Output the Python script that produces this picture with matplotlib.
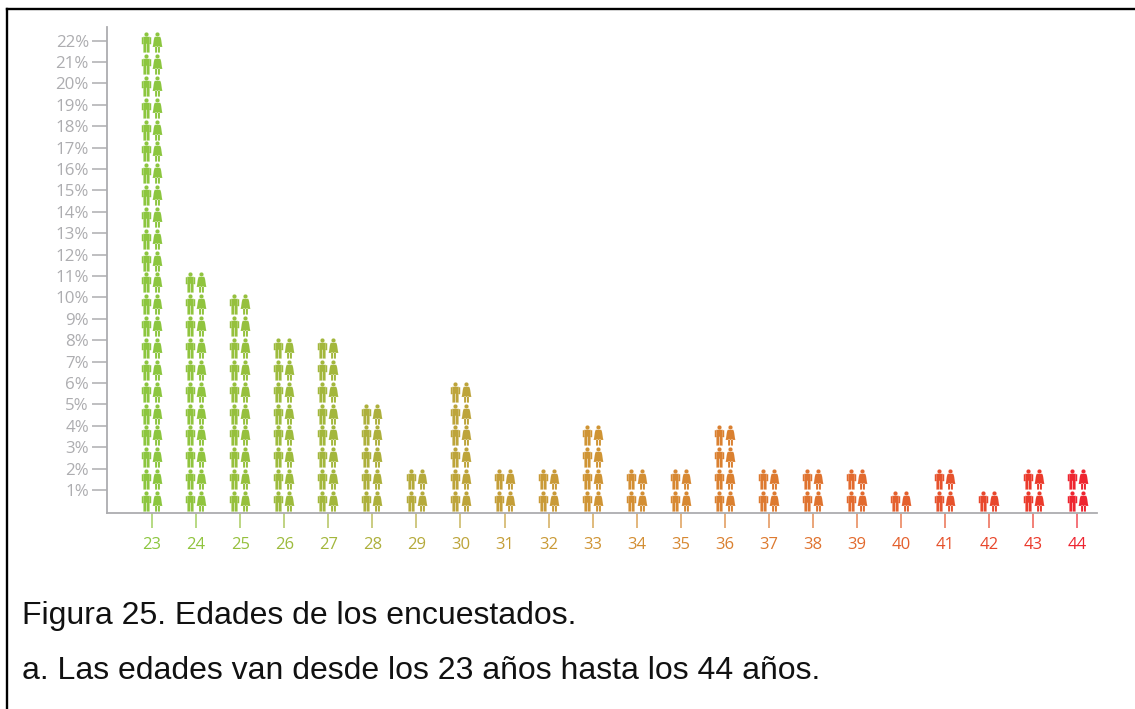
#!/usr/bin/env python
"""Figura 25: age distribution of respondents as a pictogram of paired figures."""
import matplotlib
matplotlib.use("Agg")
import matplotlib.pyplot as plt
from matplotlib.lines import Line2D
from matplotlib.path import Path

edades = list(range(23, 45))
porcentajes = [22, 11, 10, 8, 8, 5, 2, 6, 2, 2, 4, 2, 2, 4, 2, 2, 2, 1, 2, 1, 2, 2]
colores = ["#8cc63f", "#90c43e", "#96c03d", "#9dbb3d", "#a3b73c", "#adb03c",
           "#b5aa3b", "#bda43a", "#c49e38", "#c99a37", "#cf9434", "#d38e33",
           "#d78832", "#da8030", "#dd7a30", "#df732f", "#e26a2e", "#e4602d",
           "#e6522c", "#e8472c", "#eb3a2b", "#ee2530"]
etiquetas_y = [f"{i}%" for i in range(1, 23)]
titulo = "Figura 25. Edades de los encuestados."
nota = "a. Las edades van desde los 23 años hasta los 44 años."

W, H = 1135, 709
DPI = 100
GRIS = "#adadb0"


def rect(x0, y0, x1, y1):
    return [(x0, y0), (x1, y0), (x1, y1), (x0, y1), (x0, y0)], \
           [Path.MOVETO, Path.LINETO, Path.LINETO, Path.LINETO, Path.CLOSEPOLY]


def icono(partes):
    vs, cs = [], []
    for v, c in partes:
        vs += v
        cs += c
    return Path(vs, cs)


def cabeza(cy, r):
    c = Path.unit_circle()
    v = [(x * r, y * r + cy) for x, y in c.vertices]
    return v, list(c.codes)


# figures are drawn in pixel units, 20 tall, centred on the origin
hombre = icono([
    cabeza(8.0, 2.0),
    rect(-4.6, -1.6, -3.5, 5.2),
    rect(3.5, -1.6, 4.6, 5.2),
    rect(-3.2, -1.2, 3.2, 5.6),
    rect(-3.0, -10, -0.4, -1.0),
    rect(0.4, -10, 3.0, -1.0),
])
mujer = icono([
    cabeza(8.0, 2.0),
    ([(-2.6, 5.6), (2.6, 5.6), (3.3, 4.4), (4.7, -4.4), (-4.7, -4.4), (-3.3, 4.4), (-2.6, 5.6)],
     [Path.MOVETO, Path.LINETO, Path.LINETO, Path.LINETO, Path.LINETO, Path.LINETO, Path.CLOSEPOLY]),
    rect(-2.4, -10, -0.5, -4.0),
    rect(0.5, -10, 2.4, -4.0),
])
TAM = (20 * 72 / DPI) ** 2

fig = plt.figure(figsize=(W / DPI, H / DPI), dpi=DPI, facecolor="white")
# axis box from the pixel positions of the two spines
ax = fig.add_axes([107 / W, 1 - 513 / H, (1097 - 107) / W, (513 - 27) / H])
ax.set_xlim(23 - 45 / 44.07, 23 + 945 / 44.07)
ax.set_ylim(-0.075, 22.64)
ax.patch.set_alpha(0)

PASO_FILA = 21.85 / 21.4  # rows sit a touch wider apart than the percent ticks
PX_X = 1 / 44.07
for edad, pct, color in zip(edades, porcentajes, colores):
    ys = [(k + 0.5) * PASO_FILA - 0.02 for k in range(pct)]
    ax.scatter([edad - 5.9 * PX_X] * pct, ys, marker=hombre, s=TAM, color=color,
               linewidths=0.1, edgecolors=color, zorder=3, clip_on=False)
    ax.scatter([edad + 5.1 * PX_X] * pct, ys, marker=mujer, s=TAM, color=color,
               linewidths=0.1, edgecolors=color, zorder=3, clip_on=False)

for s in ("top", "right"):
    ax.spines[s].set_visible(False)
for s in ("left", "bottom"):
    ax.spines[s].set_color(GRIS)
    ax.spines[s].set_linewidth(1.3)

ax.set_yticks(range(1, 23))
ax.set_yticklabels(etiquetas_y, family="Open Sans", fontsize=12.2, color=GRIS)
ax.tick_params(axis="y", length=10.5, width=1.1, color=GRIS, pad=2.5)

ax.set_xticks(edades)
ax.set_xticklabels([str(e) for e in edades], family="Open Sans", fontsize=12)
ax.tick_params(axis="x", length=11, width=1.2, pad=6.5)
for t, lab, color in zip(ax.xaxis.get_major_ticks(), ax.get_xticklabels(), colores):
    t.tick1line.set_markeredgecolor(color)
    t.tick1line.set_alpha(0.75)
    lab.set_color(color)

# frame around the figure: only the left and top edges are visible
fig.add_artist(Line2D([7 / W, 7 / W], [0, 1 - 9 / H], color="black", lw=1.7,
                      solid_capstyle="projecting"))
fig.add_artist(Line2D([7 / W, 1], [1 - 9 / H, 1 - 9 / H], color="black", lw=1.7,
                      solid_capstyle="projecting"))

fig.text(22 / W, 1 - 624 / H, titulo, family="Liberation Sans", fontsize=23,
         color="#111111", va="baseline")
fig.text(22 / W, 1 - 679 / H, nota, family="Liberation Sans", fontsize=23,
         color="#111111", va="baseline")

fig.savefig("out.png", dpi=DPI)
